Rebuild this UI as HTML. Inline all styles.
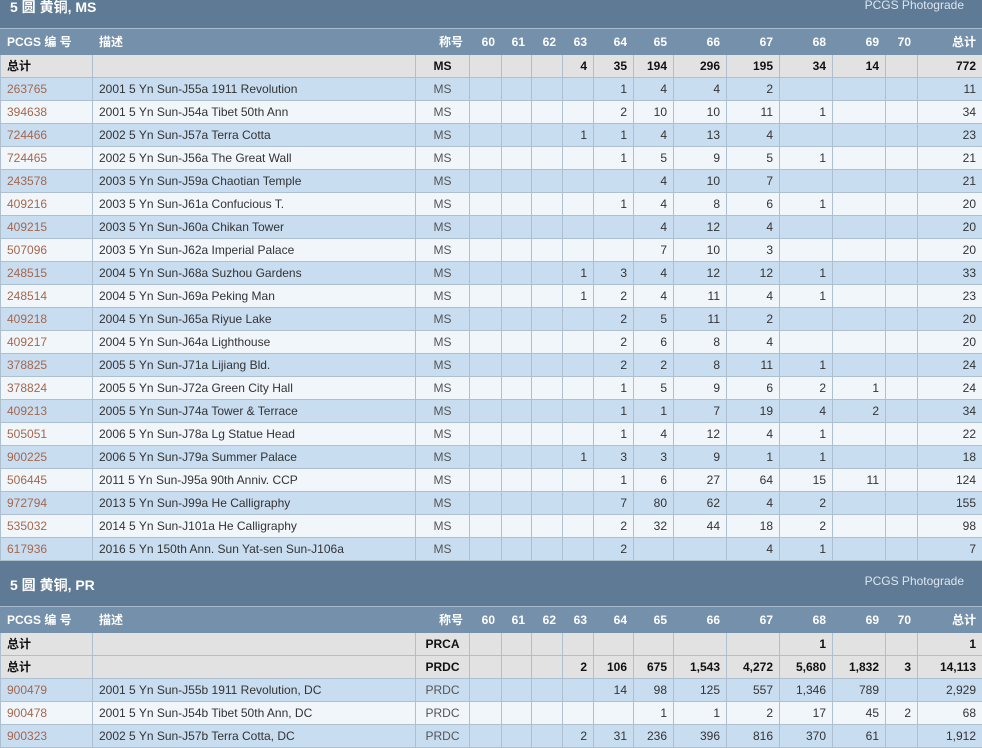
<!DOCTYPE html>
<html><head><meta charset="utf-8"><style>
body{margin:0;width:982px;height:745px;overflow:hidden;background:#fff;font-family:"Liberation Sans","Noto Sans CJK SC",sans-serif;font-size:12px;color:#333}
.sec{background:#5e7a95;color:#fff;position:relative;border-bottom:1px solid #a9bccf}
.sec .t{position:absolute;left:10px;font-weight:bold;font-size:14px}
.sec .p{position:absolute;right:18px;font-size:12px;color:#dde6ee}
table{border-collapse:collapse;table-layout:fixed;width:982px}
td{height:22px;padding:0 6px;border:1px solid #aebfd0;text-align:right;white-space:nowrap;overflow:hidden;line-height:22px}
tr.h td{background:#7590aa;color:#fff;font-weight:bold;border-color:#7590aa;height:24px}
tr.tot td{background:#e2e2e2;color:#111;font-weight:bold}
tr.o td{background:#c9ddf1}
tr.e td{background:#f1f6fb}
td.n{text-align:left;color:#a4674d}
tr.h td.n,tr.tot td.n{color:#fff;}
tr.tot td.n{color:#111}
td.d{text-align:left}
td.c{text-align:center}
tr.o td.c,tr.e td.c{color:#555}
</style></head><body>
<div class="sec" style="height:28px"><span class="t" style="top:-3px">5 圆 黄铜, MS</span><span class="p" style="top:-2px;right:18px">PCGS Photograde</span></div>
<table>
<colgroup><col style="width:92px"><col style="width:323px"><col style="width:54px"><col style="width:32px"><col style="width:30px"><col style="width:31px"><col style="width:31px"><col style="width:40px"><col style="width:40px"><col style="width:53px"><col style="width:53px"><col style="width:53px"><col style="width:53px"><col style="width:32px"><col style="width:65px"></colgroup>
<tr class="h"><td class="n">PCGS 编 号</td><td class="d">描述</td><td>称号</td><td>60</td><td>61</td><td>62</td><td>63</td><td>64</td><td>65</td><td>66</td><td>67</td><td>68</td><td>69</td><td>70</td><td>总计</td></tr>
<tr class="tot"><td class="n">总计</td><td></td><td class="c">MS</td><td></td><td></td><td></td><td>4</td><td>35</td><td>194</td><td>296</td><td>195</td><td>34</td><td>14</td><td></td><td>772</td></tr>
<tr class="o"><td class="n">263765</td><td class="d">2001 5 Yn Sun-J55a 1911 Revolution</td><td class="c">MS</td><td></td><td></td><td></td><td></td><td>1</td><td>4</td><td>4</td><td>2</td><td></td><td></td><td></td><td>11</td></tr>
<tr class="e"><td class="n">394638</td><td class="d">2001 5 Yn Sun-J54a Tibet 50th Ann</td><td class="c">MS</td><td></td><td></td><td></td><td></td><td>2</td><td>10</td><td>10</td><td>11</td><td>1</td><td></td><td></td><td>34</td></tr>
<tr class="o"><td class="n">724466</td><td class="d">2002 5 Yn Sun-J57a Terra Cotta</td><td class="c">MS</td><td></td><td></td><td></td><td>1</td><td>1</td><td>4</td><td>13</td><td>4</td><td></td><td></td><td></td><td>23</td></tr>
<tr class="e"><td class="n">724465</td><td class="d">2002 5 Yn Sun-J56a The Great Wall</td><td class="c">MS</td><td></td><td></td><td></td><td></td><td>1</td><td>5</td><td>9</td><td>5</td><td>1</td><td></td><td></td><td>21</td></tr>
<tr class="o"><td class="n">243578</td><td class="d">2003 5 Yn Sun-J59a Chaotian Temple</td><td class="c">MS</td><td></td><td></td><td></td><td></td><td></td><td>4</td><td>10</td><td>7</td><td></td><td></td><td></td><td>21</td></tr>
<tr class="e"><td class="n">409216</td><td class="d">2003 5 Yn Sun-J61a Confucious T.</td><td class="c">MS</td><td></td><td></td><td></td><td></td><td>1</td><td>4</td><td>8</td><td>6</td><td>1</td><td></td><td></td><td>20</td></tr>
<tr class="o"><td class="n">409215</td><td class="d">2003 5 Yn Sun-J60a Chikan Tower</td><td class="c">MS</td><td></td><td></td><td></td><td></td><td></td><td>4</td><td>12</td><td>4</td><td></td><td></td><td></td><td>20</td></tr>
<tr class="e"><td class="n">507096</td><td class="d">2003 5 Yn Sun-J62a Imperial Palace</td><td class="c">MS</td><td></td><td></td><td></td><td></td><td></td><td>7</td><td>10</td><td>3</td><td></td><td></td><td></td><td>20</td></tr>
<tr class="o"><td class="n">248515</td><td class="d">2004 5 Yn Sun-J68a Suzhou Gardens</td><td class="c">MS</td><td></td><td></td><td></td><td>1</td><td>3</td><td>4</td><td>12</td><td>12</td><td>1</td><td></td><td></td><td>33</td></tr>
<tr class="e"><td class="n">248514</td><td class="d">2004 5 Yn Sun-J69a Peking Man</td><td class="c">MS</td><td></td><td></td><td></td><td>1</td><td>2</td><td>4</td><td>11</td><td>4</td><td>1</td><td></td><td></td><td>23</td></tr>
<tr class="o"><td class="n">409218</td><td class="d">2004 5 Yn Sun-J65a Riyue Lake</td><td class="c">MS</td><td></td><td></td><td></td><td></td><td>2</td><td>5</td><td>11</td><td>2</td><td></td><td></td><td></td><td>20</td></tr>
<tr class="e"><td class="n">409217</td><td class="d">2004 5 Yn Sun-J64a Lighthouse</td><td class="c">MS</td><td></td><td></td><td></td><td></td><td>2</td><td>6</td><td>8</td><td>4</td><td></td><td></td><td></td><td>20</td></tr>
<tr class="o"><td class="n">378825</td><td class="d">2005 5 Yn Sun-J71a Lijiang Bld.</td><td class="c">MS</td><td></td><td></td><td></td><td></td><td>2</td><td>2</td><td>8</td><td>11</td><td>1</td><td></td><td></td><td>24</td></tr>
<tr class="e"><td class="n">378824</td><td class="d">2005 5 Yn Sun-J72a Green City Hall</td><td class="c">MS</td><td></td><td></td><td></td><td></td><td>1</td><td>5</td><td>9</td><td>6</td><td>2</td><td>1</td><td></td><td>24</td></tr>
<tr class="o"><td class="n">409213</td><td class="d">2005 5 Yn Sun-J74a Tower &amp; Terrace</td><td class="c">MS</td><td></td><td></td><td></td><td></td><td>1</td><td>1</td><td>7</td><td>19</td><td>4</td><td>2</td><td></td><td>34</td></tr>
<tr class="e"><td class="n">505051</td><td class="d">2006 5 Yn Sun-J78a Lg Statue Head</td><td class="c">MS</td><td></td><td></td><td></td><td></td><td>1</td><td>4</td><td>12</td><td>4</td><td>1</td><td></td><td></td><td>22</td></tr>
<tr class="o"><td class="n">900225</td><td class="d">2006 5 Yn Sun-J79a Summer Palace</td><td class="c">MS</td><td></td><td></td><td></td><td>1</td><td>3</td><td>3</td><td>9</td><td>1</td><td>1</td><td></td><td></td><td>18</td></tr>
<tr class="e"><td class="n">506445</td><td class="d">2011 5 Yn Sun-J95a 90th Anniv. CCP</td><td class="c">MS</td><td></td><td></td><td></td><td></td><td>1</td><td>6</td><td>27</td><td>64</td><td>15</td><td>11</td><td></td><td>124</td></tr>
<tr class="o"><td class="n">972794</td><td class="d">2013 5 Yn Sun-J99a He Calligraphy</td><td class="c">MS</td><td></td><td></td><td></td><td></td><td>7</td><td>80</td><td>62</td><td>4</td><td>2</td><td></td><td></td><td>155</td></tr>
<tr class="e"><td class="n">535032</td><td class="d">2014 5 Yn Sun-J101a He Calligraphy</td><td class="c">MS</td><td></td><td></td><td></td><td></td><td>2</td><td>32</td><td>44</td><td>18</td><td>2</td><td></td><td></td><td>98</td></tr>
<tr class="o"><td class="n">617936</td><td class="d">2016 5 Yn 150th Ann. Sun Yat-sen Sun-J106a</td><td class="c">MS</td><td></td><td></td><td></td><td></td><td>2</td><td></td><td></td><td>4</td><td>1</td><td></td><td></td><td>7</td></tr>
</table>
<div class="sec" style="height:45px"><span class="t" style="top:14px">5 圆 黄铜, PR</span><span class="p" style="top:13px">PCGS Photograde</span></div>
<table>
<colgroup><col style="width:92px"><col style="width:323px"><col style="width:54px"><col style="width:32px"><col style="width:30px"><col style="width:31px"><col style="width:31px"><col style="width:40px"><col style="width:40px"><col style="width:53px"><col style="width:53px"><col style="width:53px"><col style="width:53px"><col style="width:32px"><col style="width:65px"></colgroup>
<tr class="h"><td class="n">PCGS 编 号</td><td class="d">描述</td><td>称号</td><td>60</td><td>61</td><td>62</td><td>63</td><td>64</td><td>65</td><td>66</td><td>67</td><td>68</td><td>69</td><td>70</td><td>总计</td></tr>
<tr class="tot"><td class="n">总计</td><td></td><td class="c">PRCA</td><td></td><td></td><td></td><td></td><td></td><td></td><td></td><td></td><td>1</td><td></td><td></td><td>1</td></tr>
<tr class="tot"><td class="n">总计</td><td></td><td class="c">PRDC</td><td></td><td></td><td></td><td>2</td><td>106</td><td>675</td><td>1,543</td><td>4,272</td><td>5,680</td><td>1,832</td><td>3</td><td>14,113</td></tr>
<tr class="o"><td class="n">900479</td><td class="d">2001 5 Yn Sun-J55b 1911 Revolution, DC</td><td class="c">PRDC</td><td></td><td></td><td></td><td></td><td>14</td><td>98</td><td>125</td><td>557</td><td>1,346</td><td>789</td><td></td><td>2,929</td></tr>
<tr class="e"><td class="n">900478</td><td class="d">2001 5 Yn Sun-J54b Tibet 50th Ann, DC</td><td class="c">PRDC</td><td></td><td></td><td></td><td></td><td></td><td>1</td><td>1</td><td>2</td><td>17</td><td>45</td><td>2</td><td>68</td></tr>
<tr class="o"><td class="n">900323</td><td class="d">2002 5 Yn Sun-J57b Terra Cotta, DC</td><td class="c">PRDC</td><td></td><td></td><td></td><td>2</td><td>31</td><td>236</td><td>396</td><td>816</td><td>370</td><td>61</td><td></td><td>1,912</td></tr>
</table>
</body></html>
